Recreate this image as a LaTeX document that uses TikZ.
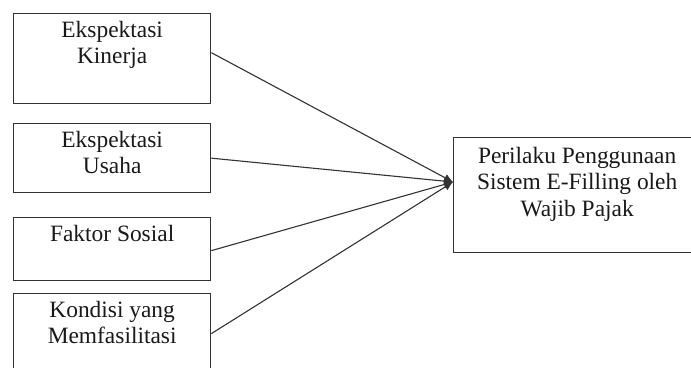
\documentclass[tikz,border=0pt]{standalone}
\usepackage{fontspec}
\setmainfont{Liberation Serif}
\usetikzlibrary{arrows.meta,calc}
\begin{document}
\begin{tikzpicture}[x=1bp,y=-1bp,
  boxstyle/.style={draw=black!80,line width=1.3bp,fill=white,anchor=north west,inner sep=0pt},
  txt/.style={align=center,font=\fontsize{23.5}{26.5}\selectfont,inner sep=0pt,anchor=north,text=black!90},
  conn/.style={draw=black!80,line width=1.1bp,-{Latex[length=9bp,width=8bp]}}]
\useasboundingbox (0,0) rectangle (691,367);
\node[boxstyle,minimum width=197bp,minimum height=90bp] (b1) at (13,13) {};
\node[boxstyle,minimum width=197bp,minimum height=69bp] (b2) at (13,123) {};
\node[boxstyle,minimum width=197bp,minimum height=63bp] (b3) at (13,217) {};
\node[boxstyle,minimum width=197bp,minimum height=80bp] (b4) at (13,293) {};
\node[boxstyle,minimum width=247bp,minimum height=115bp] (r) at (453,137) {};
\node[txt] (t1) at ($(b1.north)+(0,8)$) {Ekspektasi\\Kinerja};
\node[txt] (t2) at ($(b2.north)+(0,8)$) {Ekspektasi\\Usaha};
\node[txt] (t3) at ($(b3.north)+(0,8)$) {Faktor Sosial};
\node[txt] (t4) at ($(b4.north)+(0,8)$) {Kondisi yang\\Memfasilitasi};
\node[txt] (tr) at ($(r.north)+(0,10)$) {Perilaku Penggunaan\\Sistem E-Filling oleh\\Wajib Pajak};
\coordinate (tip) at ($(r.north west)+(0,45)$);
\draw[conn] ($(b1.east)+(0,-6)$) -- (tip);
\draw[conn] (b2.east) -- (tip);
\draw[conn] ($(b3.east)+(0,1.5)$) -- (tip);
\draw[conn] (b4.east) -- (tip);
\end{tikzpicture}
\end{document}
